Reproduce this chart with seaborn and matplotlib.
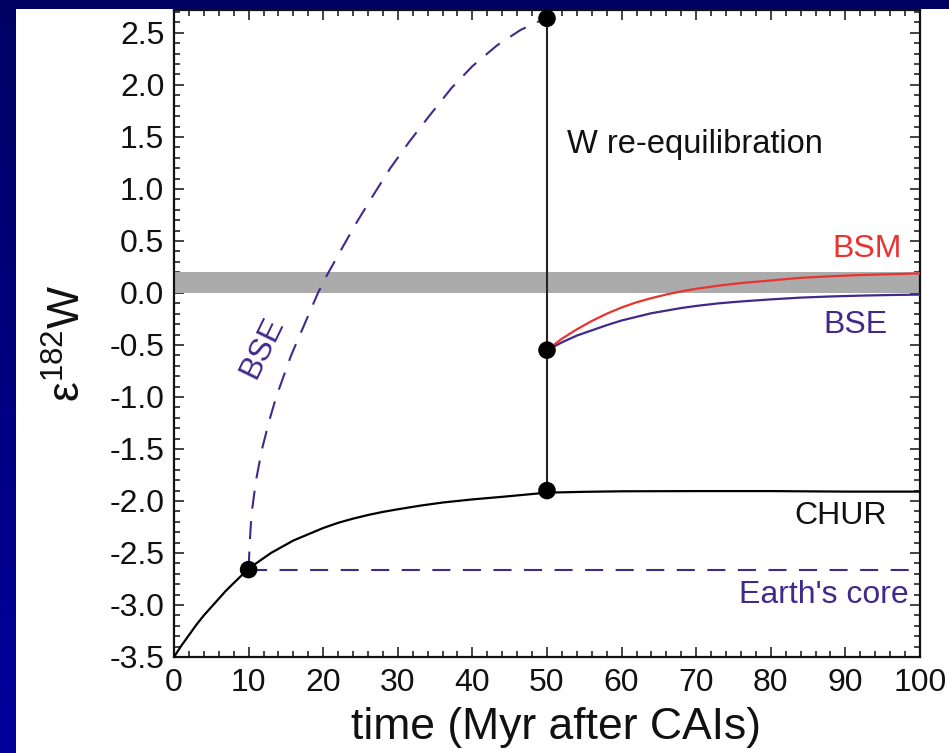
import numpy as np
import pandas as pd
import matplotlib
matplotlib.use("Agg")
import matplotlib.pyplot as plt
from matplotlib.patches import Rectangle
from matplotlib.ticker import MultipleLocator, FormatStrFormatter
import seaborn as sns

# ---------------- data ----------------
chur_t = [0, 1, 2, 3, 4, 5, 6, 7, 8, 9, 10, 11, 12, 13, 14, 16, 18, 20, 22, 24,
          26, 28, 30, 33, 36, 40, 44, 47, 50, 55, 60, 70, 80, 90, 100]
chur_w = [-3.50, -3.39, -3.29, -3.19, -3.10, -3.02, -2.94, -2.86, -2.79, -2.72,
          -2.66, -2.60, -2.55, -2.50, -2.46, -2.38, -2.32, -2.26, -2.21, -2.17,
          -2.135, -2.105, -2.08, -2.045, -2.015, -1.985, -1.96, -1.94, -1.92,
          -1.912, -1.907, -1.905, -1.905, -1.91, -1.91]

bse_dash_t = [10.0, 10.15, 10.4, 11.0, 11.8, 12.8, 13.7, 14.7, 15.7, 16.9, 18.1,
              19.3, 20.5, 22.6, 24.5, 26.8, 29.0, 31.5, 34.2, 37.2, 40.0, 43.3,
              46.5, 48.9, 50.0]
bse_dash_w = [-2.66, -2.40, -2.12, -1.80, -1.50, -1.22, -1.00, -0.80, -0.60, -0.40,
              -0.20, 0.00, 0.17, 0.44, 0.68, 0.95, 1.20, 1.45, 1.70, 1.97, 2.18,
              2.38, 2.53, 2.61, 2.64]

bsm_t = [50, 52, 54, 56, 58, 60, 62, 64, 66, 68, 70, 73, 76, 80, 84, 88, 92, 96, 100]
bsm_w = [-0.55, -0.44, -0.35, -0.27, -0.20, -0.14, -0.09, -0.05, -0.015, 0.015,
         0.04, 0.07, 0.095, 0.12, 0.145, 0.16, 0.172, 0.18, 0.188]

bse_t = [50, 52, 54, 56, 58, 60, 62, 64, 66, 68, 70, 73, 76, 80, 84, 88, 92, 96, 100]
bse_w = [-0.55, -0.475, -0.41, -0.36, -0.31, -0.265, -0.23, -0.195, -0.17, -0.145,
         -0.125, -0.10, -0.082, -0.062, -0.045, -0.034, -0.026, -0.02, -0.016]

reequil_t = [50, 50]
reequil_w = [-1.90, 2.64]

core_t = [10, 100]
core_w = [-2.66, -2.66]

dot_t = [10, 50, 50, 50]
dot_w = [-2.66, 2.64, -0.55, -1.90]

band = [0.0, 0.2]

x_ticks = [0, 10, 20, 30, 40, 50, 60, 70, 80, 90, 100]
y_ticks = [-3.5, -3.0, -2.5, -2.0, -1.5, -1.0, -0.5, 0.0, 0.5, 1.0, 1.5, 2.0, 2.5]

# ---------------- style ----------------
sns.set_theme(style="ticks")
plt.rcParams['font.family'] = ['Liberation Sans', 'DejaVu Sans']
plt.rcParams['mathtext.fontset'] = 'custom'
plt.rcParams['mathtext.rm'] = 'Liberation Sans'
plt.rcParams['axes.unicode_minus'] = False
plt.rcParams['lines.scale_dashes'] = False

PURPLE = '#41298C'
RED = '#E8332E'
GREY = '#ABABAB'
INK = '#111111'

W, H = 949, 753
fig = plt.figure(figsize=(W / 100, H / 100), dpi=100)

# background: blue gradient with white panel
bg = fig.add_axes([0, 0, 1, 1], zorder=-10)
grad = np.linspace(0, 1, 256)
cols = np.zeros((256, 1, 3))
cols[:, 0, 2] = 0.39 + 0.22 * grad
bg.imshow(cols, aspect='auto', extent=[0, 1, 0, 1], origin='upper')
bg.add_patch(Rectangle((16 / W, 0), 1, 1 - 9 / H, color='white', lw=0))
bg.set_xlim(0, 1)
bg.set_ylim(0, 1)
bg.axis('off')

ax = fig.add_axes([174 / W, 1 - 657 / H, 746 / W, 647 / H])
ax.set_facecolor('white')

ax.axhspan(band[0], band[1], color=GREY, lw=0, zorder=1)

dash = (0, (13, 9))
sns.lineplot(x=core_t, y=core_w, ax=ax, color=PURPLE, lw=1.5, linestyle=dash,
             estimator=None, sort=False, zorder=2)
sns.lineplot(x=bse_dash_t, y=bse_dash_w, ax=ax, color=PURPLE, lw=1.5, linestyle=dash,
             estimator=None, sort=False, zorder=2)
sns.lineplot(x=chur_t, y=chur_w, ax=ax, color='black', lw=1.6,
             estimator=None, sort=False, zorder=3)
sns.lineplot(x=reequil_t, y=reequil_w, ax=ax, color='#222222', lw=1.5,
             estimator=None, sort=False, zorder=3)
sns.lineplot(x=bse_t, y=bse_w, ax=ax, color=PURPLE, lw=1.6,
             estimator=None, sort=False, zorder=3)
sns.lineplot(x=bsm_t, y=bsm_w, ax=ax, color=RED, lw=1.6,
             estimator=None, sort=False, zorder=3)
sns.scatterplot(x=dot_t, y=dot_w, ax=ax, color='black', s=160, edgecolor='none',
                zorder=5, clip_on=False)

ax.set_xlim(0, 100)
ax.set_ylim(-3.5, 2.72)
ax.set_xticks(x_ticks)
ax.set_yticks(y_ticks)
ax.yaxis.set_major_formatter(FormatStrFormatter('%.1f'))
ax.xaxis.set_minor_locator(MultipleLocator(2))
ax.yaxis.set_minor_locator(MultipleLocator(0.1))
ax.tick_params(which='both', direction='in', top=True, right=True,
               colors=INK, width=1.1)
ax.tick_params(which='major', length=7, labelsize=23, pad=7)
ax.tick_params(which='minor', length=4)
ax.tick_params(axis='x', which='major', pad=8)
for s in ax.spines.values():
    s.set_visible(True)
    s.set_linewidth(1.6)
    s.set_color(INK)
ax.set_xlabel('')
ax.set_ylabel('')

# annotations
ax.text(52.7, 1.43, 'W re-equilibration', fontsize=23.5, ha='left', va='center', color=INK)
ax.text(97.6, 0.42, 'BSM', fontsize=23, ha='right', va='center', color=RED)
ax.text(95.6, -0.31, 'BSE', fontsize=23, ha='right', va='center', color=PURPLE)
ax.text(95.6, -2.14, 'CHUR', fontsize=23, ha='right', va='center', color=INK)
ax.text(98.5, -2.90, "Earth's core", fontsize=23, ha='right', va='center', color=PURPLE)
ax.text(11.8, -0.53, 'BSE', fontsize=23, ha='center', va='center', color=PURPLE,
        rotation=64, rotation_mode='anchor')

fig.text(556 / W, 1 - 727 / H, 'time (Myr after CAIs)', fontsize=32,
         ha='center', va='center', color=INK)
fig.text(68 / W, 1 - 343 / H, 'ε$\\mathregular{^{182}}$W', fontsize=32,
         ha='center', va='center', rotation=90, color=INK)

fig.savefig('out.png', dpi=100)
